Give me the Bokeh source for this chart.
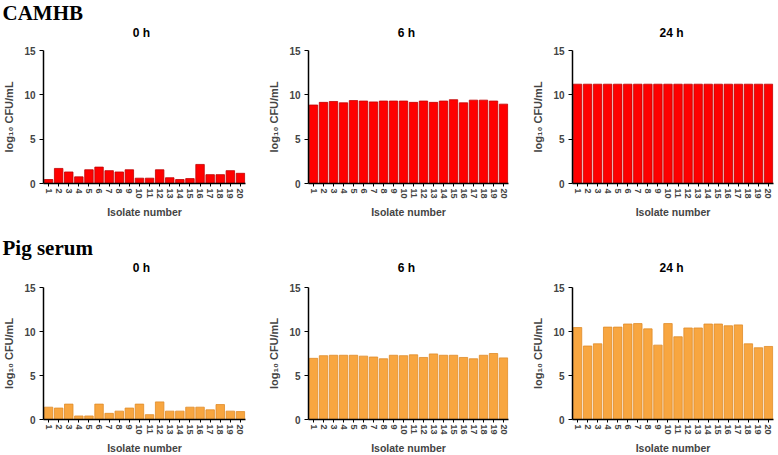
import math
from bokeh.plotting import figure
from bokeh.layouts import column, row
from bokeh.models import ColumnDataSource, FixedTicker
from bokeh.core.properties import value
from bokeh.embed import file_html
from bokeh.resources import INLINE

isolates = list(range(1, 21))
isolate_labels = [str(i) for i in isolates]
y_ticks = [0, 5, 10, 15]
time_titles = ["0 h", "6 h", "24 h"]
row_titles = ["CAMHB", "Pig serum"]

camhb_0h = [0.45, 1.7, 1.3, 0.75, 1.55, 1.85, 1.45, 1.3, 1.55, 0.6,
            0.6, 1.55, 0.65, 0.45, 0.55, 2.15, 1.0, 1.0, 1.45, 1.15]
camhb_6h = [8.85, 9.15, 9.25, 9.1, 9.35, 9.3, 9.2, 9.3, 9.3, 9.3,
            9.15, 9.3, 9.15, 9.3, 9.45, 9.1, 9.4, 9.4, 9.3, 8.95]
camhb_24h = [11.2] * 20
serum_0h = [1.4, 1.3, 1.75, 0.4, 0.4, 1.75, 0.7, 0.95, 1.3, 1.75,
            0.55, 2.0, 0.95, 0.95, 1.4, 1.4, 1.1, 1.7, 0.95, 0.9]
serum_6h = [6.95, 7.25, 7.3, 7.3, 7.3, 7.2, 7.1, 6.9, 7.3, 7.25,
            7.35, 7.05, 7.45, 7.3, 7.3, 7.05, 6.9, 7.3, 7.5, 7.0]
serum_24h = [10.45, 8.35, 8.6, 10.5, 10.5, 10.85, 10.9, 10.3, 8.45, 10.9,
             9.4, 10.4, 10.4, 10.85, 10.85, 10.65, 10.75, 8.6, 8.15, 8.3]

RED = "#ff0000"
RED_LINE = "#c00000"
ORANGE = "#f8a640"
ORANGE_LINE = "#e08c28"

SANS = "Liberation Sans"
SERIF = "Liberation Serif"
TOTAL_W = 766

# (fig width, left border, frame width)
col_geom = [(254, 35, 202), (256, 46, 200), (256, 54, 201)]
TITLE_X = [141, 406, 671]   # screen x of the panel titles inside header strips
TOP, BOTTOM = 10, 34


def panel(vals, geom, frame_h, color, line_color):
    w, left, frame_w = geom
    p = figure(width=w, height=TOP + frame_h + BOTTOM,
               x_range=(0.5, 20.5), y_range=(0, 15),
               output_backend="svg", toolbar_location=None,
               min_border_left=left, min_border_right=w - left - frame_w,
               min_border_top=TOP, min_border_bottom=BOTTOM)
    p.frame_width = frame_w
    p.frame_height = frame_h
    src = ColumnDataSource(dict(x=isolates, top=vals))
    p.vbar(x="x", top="top", width=0.84, source=src, fill_color=color,
           line_color=line_color, line_width=0.8)
    p.grid.visible = False
    p.outline_line_color = None
    p.background_fill_color = "white"
    p.border_fill_color = "white"

    xa = p.xaxis[0]
    xa.ticker = FixedTicker(ticks=isolates)
    xa.major_label_overrides = {i: s for i, s in zip(isolates, isolate_labels)}
    xa.major_label_orientation = -math.pi / 2
    xa.major_label_text_font = SANS
    xa.major_label_text_font_style = "bold"
    xa.major_label_text_font_size = "9px"
    xa.major_label_standoff = 2
    xa.major_tick_out = 3
    xa.major_tick_in = 0
    xa.minor_tick_line_color = None
    xa.axis_line_width = 1.5
    xa.axis_label = "Isolate number"
    xa.axis_label_text_font = SANS
    xa.axis_label_text_font_style = "bold"
    xa.axis_label_text_font_size = "10.5px"
    xa.axis_label_standoff = 4

    ya = p.yaxis[0]
    ya.ticker = FixedTicker(ticks=y_ticks)
    ya.major_label_text_font = SANS
    ya.major_label_text_font_style = "bold"
    ya.major_label_text_font_size = "10px"
    ya.major_label_standoff = 4
    ya.major_tick_out = 4
    ya.major_tick_in = 0
    ya.minor_tick_line_color = None
    ya.axis_line_width = 1.5
    ya.axis_label = "log\u2081\u2080 CFU/mL"
    ya.axis_label_text_font = SANS
    ya.axis_label_text_font_style = "bold"
    ya.axis_label_text_font_size = "11px"
    ya.axis_label_standoff = 6
    return p


def header(text, height, label_from_top, titles_from_top):
    p = figure(width=TOTAL_W, height=height, x_range=(0, TOTAL_W), y_range=(0, height),
               output_backend="svg", toolbar_location=None,
               min_border=0, min_border_left=0, min_border_right=0,
               min_border_top=0, min_border_bottom=0)
    p.axis.visible = False
    p.grid.visible = False
    p.outline_line_color = None
    p.text(x=[2], y=[height - label_from_top], text=[text],
           text_font=value(SERIF), text_font_style="bold",
           text_font_size="21px", text_baseline="middle",
           text_color="black")
    p.text(x=TITLE_X, y=[height - titles_from_top] * len(TITLE_X), text=time_titles,
           text_font=value(SANS), text_font_style="bold",
           text_font_size="12px", text_baseline="middle", text_align="center",
           text_color="black")
    return p


camhb = [camhb_0h, camhb_6h, camhb_24h]
serum = [serum_0h, serum_6h, serum_24h]

row1 = row(*[panel(v, g, 133, RED, RED_LINE) for v, g in zip(camhb, col_geom)])
row2 = row(*[panel(v, g, 132, ORANGE, ORANGE_LINE) for v, g in zip(serum, col_geom)])

head1 = header(row_titles[0], 40, 12, 32)
head2 = header(row_titles[1], 57, 27, 47)

layout = column(head1, row1, head2, row2)

open("out.html", "w").write(file_html(layout, INLINE))
